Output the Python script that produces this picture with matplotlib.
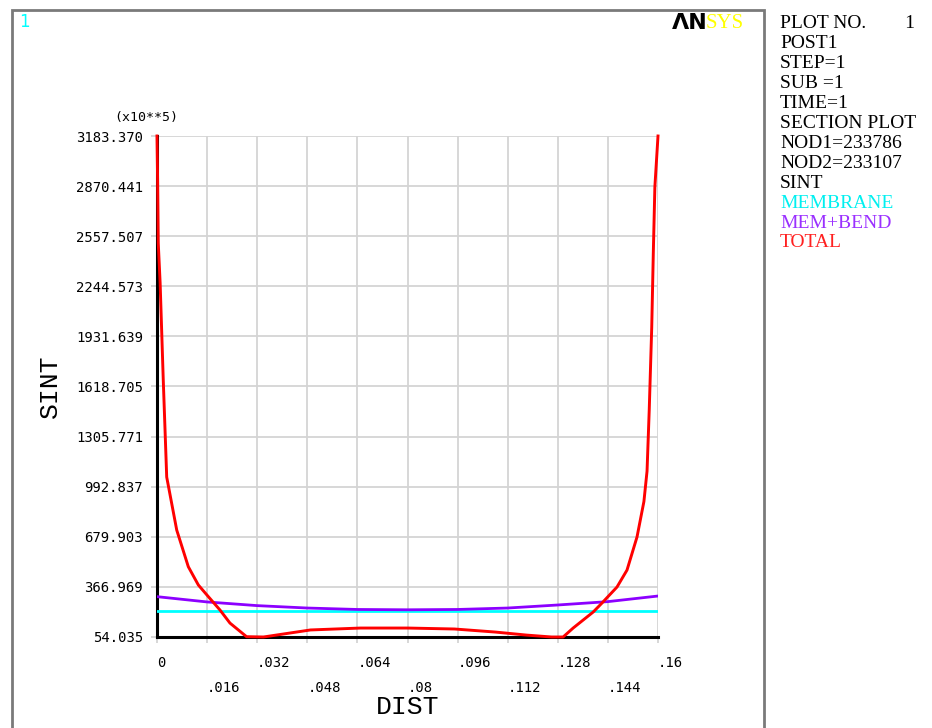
import matplotlib

matplotlib.use("Agg")
import matplotlib.pyplot as plt
from matplotlib.patches import Rectangle

# section plot data (SINT, x10**5)
y_ticks = [54.035, 366.969, 679.903, 992.837, 1305.771, 1618.705,
           1931.639, 2244.573, 2557.507, 2870.441, 3183.370]
x_ticks = [0, .016, .032, .048, .064, .08, .096, .112, .128, .144, .16]
x_tick_labels = ["0", ".016", ".032", ".048", ".064", ".08", ".096",
                 ".112", ".128", ".144", ".16"]

membrane_dist = [0.0, 0.16]
membrane_sint = [219, 219]

membend_dist = [0.0, 0.016, 0.032, 0.048, 0.064, 0.08, 0.096, 0.112, 0.128, 0.144, 0.16]
membend_sint = [306, 273, 250, 235, 226, 224, 226, 235, 254, 275, 310]

total_dist = [0.0, 0.0002, 0.0004, 0.001, 0.002, 0.0031, 0.0063, 0.0100, 0.0132,
              0.0164, 0.0201, 0.0233, 0.0286, 0.0340, 0.0425, 0.0490, 0.0650,
              0.0800, 0.0950, 0.1080, 0.1180, 0.1260, 0.1297, 0.1329, 0.1393,
              0.1421, 0.1469, 0.1501, 0.1533, 0.1555, 0.1565, 0.1572, 0.1580,
              0.1585, 0.1590, 0.16]
total_sint = [3183.37, 2900, 2515, 2265, 1659, 1053, 722, 493, 379,
              306, 223, 141, 56, 54.035, 79, 98, 110,
              110, 104, 85, 66, 54.035, 54.035, 110, 210,
              266, 366, 472, 679, 900, 1090, 1472, 1990,
              2452, 2865, 3183.37]

info_lines = [
    ("PLOT NO.        1", "black"),
    ("POST1", "black"),
    ("STEP=1", "black"),
    ("SUB =1", "black"),
    ("TIME=1", "black"),
    ("SECTION PLOT", "black"),
    ("NOD1=233786", "black"),
    ("NOD2=233107", "black"),
    ("SINT", "black"),
    ("MEMBRANE", "#00f0f0"),
    ("MEM+BEND", "#9b30ff"),
    ("TOTAL", "#ff2020"),
]

W, H = 932, 728
fig = plt.figure(figsize=(W / 100, H / 100), dpi=100)


def fx(px):
    return px / W


def fy(py):
    return 1 - py / H


ax = fig.add_axes([fx(157), fy(637), fx(658) - fx(157), fy(136) - fy(637)])

ax.plot(membrane_dist, membrane_sint, color="#00ffff", lw=2.0, zorder=3)
ax.plot(membend_dist, membend_sint, color="#8c00ff", lw=2.0, zorder=4)
ax.plot(total_dist, total_sint, color="#ff0000", lw=2.1, zorder=5, clip_on=False)

ax.set_xlim(0, 0.16)
ax.set_ylim(y_ticks[0], y_ticks[-1])
ax.set_yticks(y_ticks, labels=[f"{v:.3f}" for v in y_ticks])
ax.set_xticks(x_ticks, labels=x_tick_labels)
ax.grid(True, color="#d4d4d4", lw=1.3, zorder=0)
ax.set_axisbelow(True)

for side in ("top", "right"):
    ax.spines[side].set_visible(False)
for side in ("left", "bottom"):
    ax.spines[side].set_linewidth(2.2)
    ax.spines[side].set_zorder(2)

ax.tick_params(axis="both", length=4, width=1.3, color="#d4d4d4", labelsize=10)
ax.tick_params(axis="y", pad=6)
for lab in ax.get_yticklabels() + ax.get_xticklabels():
    lab.set_family("DejaVu Sans Mono")

for i, tick in enumerate(ax.xaxis.get_major_ticks()):
    tick.set_pad(10 if i % 2 == 0 else 28)
    tick.label1.set_horizontalalignment("left")

ax.set_xlabel("DIST", family="Liberation Mono", fontsize=19, labelpad=0)
ax.xaxis.set_label_coords(0.5, -0.115)
ax.set_ylabel("SINT", family="Liberation Mono", fontsize=19)
ax.yaxis.set_label_coords(-0.19, 0.5)

fig.text(fx(146), fy(117), "(x10**5)", family="DejaVu Sans Mono", fontsize=9.5,
         ha="center", va="center")

# window frame
fig.patches.append(Rectangle((fx(12), fy(740)), fx(764) - fx(12), fy(10) - fy(740),
                             transform=fig.transFigure, fill=False,
                             edgecolor="#7a7a7a", lw=2))

fig.text(fx(19), fy(22), "1", color="#00ffff", family="DejaVu Sans", fontsize=12,
         ha="left", va="center")

# logo
fig.text(fx(672), fy(23), "ΛN", color="black", family="DejaVu Sans", fontweight="bold",
         fontsize=16, ha="left", va="center")
fig.text(fx(706), fy(23), "SYS", color="#ffff00", family="Liberation Serif",
         fontsize=15, ha="left", va="center")

for i, (txt, col) in enumerate(info_lines):
    fig.text(fx(780), fy(23 + i * 20), txt, color=col, family="Liberation Serif",
             fontsize=14, ha="left", va="center")

fig.savefig("out.png", dpi=100)
